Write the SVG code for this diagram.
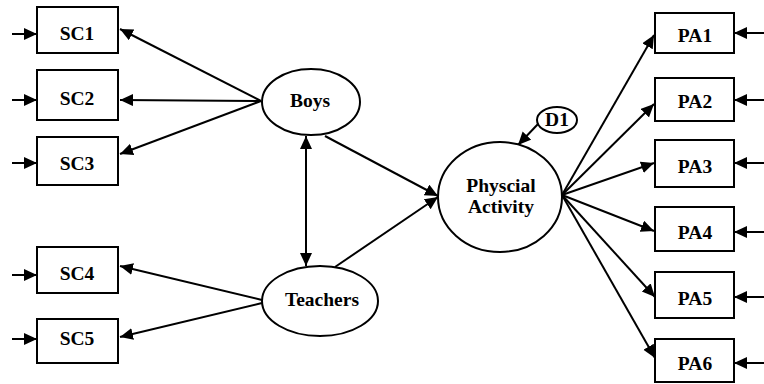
<svg xmlns="http://www.w3.org/2000/svg" width="764" height="384" viewBox="0 0 764 384">
<style>
.box{fill:#fff;stroke:#000;stroke-width:2}
.ell{fill:#fff;stroke:#000;stroke-width:2}
.lbl{font-family:'Liberation Serif','Times New Roman',serif;font-weight:700;font-size:19.5px;text-anchor:middle;fill:#000}
.c{stroke:#000;stroke-width:2;fill:none;marker-end:url(#ah)}
.d{marker-start:url(#ahs)}
</style>
<defs>
<marker id="ah" markerUnits="userSpaceOnUse" markerWidth="14" markerHeight="14" refX="13" refY="6" orient="auto">
<path d="M0,0 L13,6 L0,12 z" fill="#000"/>
</marker>
<marker id="ahs" markerUnits="userSpaceOnUse" markerWidth="14" markerHeight="14" refX="13" refY="6" orient="auto-start-reverse">
<path d="M0,0 L13,6 L0,12 z" fill="#000"/>
</marker>
</defs>
<rect width="764" height="384" fill="#fff"/>
<g id="connectors">
<line class="c" x1="12" y1="34" x2="37" y2="34"/>
<line class="c" x1="12" y1="100" x2="37" y2="100"/>
<line class="c" x1="12" y1="163" x2="37" y2="163"/>
<line class="c" x1="12" y1="275" x2="37" y2="275"/>
<line class="c" x1="12" y1="339" x2="37" y2="339"/>
<line class="c" x1="764" y1="33" x2="734" y2="33"/>
<line class="c" x1="764" y1="100" x2="734" y2="100"/>
<line class="c" x1="764" y1="163" x2="734" y2="163"/>
<line class="c" x1="764" y1="232" x2="734" y2="232"/>
<line class="c" x1="764" y1="297" x2="734" y2="297"/>
<line class="c" x1="764" y1="363" x2="734" y2="363"/>
<line class="c" x1="261" y1="101" x2="120" y2="29"/>
<line class="c" x1="261" y1="101" x2="120" y2="100"/>
<line class="c" x1="261" y1="101" x2="120" y2="154"/>
<line class="c" x1="262" y1="300" x2="120" y2="266"/>
<line class="c" x1="262" y1="303" x2="120" y2="337"/>
<line class="c d" x1="306" y1="136" x2="306" y2="266"/>
<line class="c" x1="325" y1="136" x2="438" y2="196"/>
<line class="c" x1="335" y1="267" x2="438" y2="197"/>
<line class="c" x1="538" y1="124" x2="518" y2="145"/>
<line class="c" x1="562" y1="195" x2="654" y2="35"/>
<line class="c" x1="562" y1="195" x2="654" y2="104"/>
<line class="c" x1="562" y1="195" x2="654" y2="163"/>
<line class="c" x1="562" y1="195" x2="654" y2="231"/>
<line class="c" x1="562" y1="195" x2="655" y2="297"/>
<line class="c" x1="562" y1="195" x2="655" y2="358"/>
</g>
<g id="SC1"><rect class="box" x="37" y="7" width="81" height="46"/><text class="lbl" x="77" y="40">SC1</text></g>
<g id="SC2"><rect class="box" x="37" y="70" width="81" height="50"/><text class="lbl" x="77" y="105">SC2</text></g>
<g id="SC3"><rect class="box" x="37" y="137" width="81" height="48"/><text class="lbl" x="77" y="170">SC3</text></g>
<g id="SC4"><rect class="box" x="37" y="247" width="81" height="46"/><text class="lbl" x="77" y="280">SC4</text></g>
<g id="SC5"><rect class="box" x="37" y="319" width="81" height="44"/><text class="lbl" x="77" y="345">SC5</text></g>
<g id="Boys"><ellipse class="ell" cx="311" cy="102" rx="49" ry="33"/><text class="lbl" x="310" y="107">Boys</text></g>
<g id="Teachers"><ellipse class="ell" cx="320" cy="301" rx="58" ry="35"/><text class="lbl" x="322" y="306">Teachers</text></g>
<g id="PhysicalActivity"><ellipse class="ell" cx="500" cy="197" rx="62" ry="55"/><text class="lbl" x="501" y="192">Physcial</text><text class="lbl" x="501" y="213">Activity</text></g>
<g id="D1"><ellipse class="ell" cx="557" cy="120" rx="20" ry="13"/><text class="lbl" x="557" y="126">D1</text></g>
<g id="PA1"><rect class="box" x="655" y="13" width="79" height="40"/><text class="lbl" x="695" y="42">PA1</text></g>
<g id="PA2"><rect class="box" x="655" y="78" width="79" height="43"/><text class="lbl" x="695" y="108">PA2</text></g>
<g id="PA3"><rect class="box" x="655" y="140" width="79" height="47"/><text class="lbl" x="695" y="173">PA3</text></g>
<g id="PA4"><rect class="box" x="655" y="207" width="79" height="44"/><text class="lbl" x="695" y="239">PA4</text></g>
<g id="PA5"><rect class="box" x="655" y="272" width="79" height="46"/><text class="lbl" x="695" y="305">PA5</text></g>
<g id="PA6"><rect class="box" x="655" y="339" width="79" height="43"/><text class="lbl" x="695" y="370">PA6</text></g>
</svg>
